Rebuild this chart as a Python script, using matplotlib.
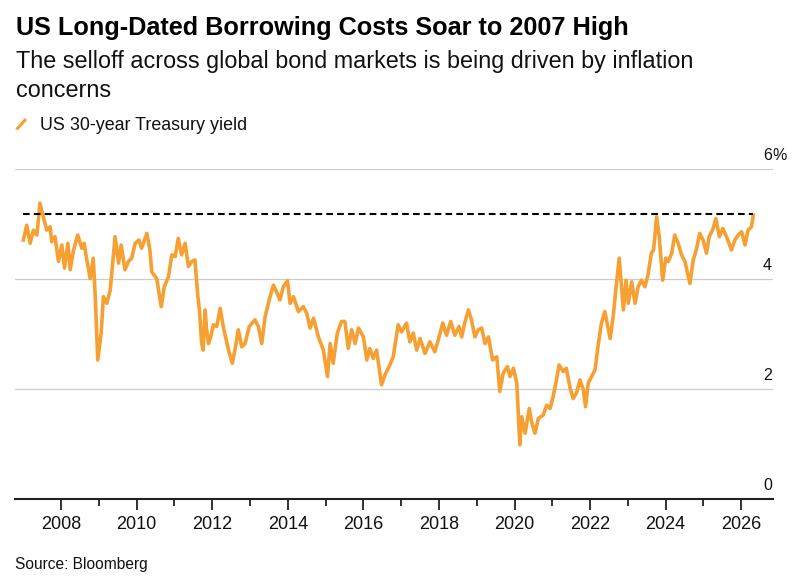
import numpy as np
import matplotlib
matplotlib.use('Agg')
import matplotlib.pyplot as plt
from matplotlib.lines import Line2D

# US 30-year Treasury yield (decimal year, percent)
years = [2007.00, 2007.09, 2007.18, 2007.27, 2007.36, 2007.44, 2007.53, 2007.62, 2007.71, 2007.75,
         2007.84, 2007.93, 2008.02, 2008.09, 2008.18, 2008.24, 2008.33, 2008.44, 2008.55, 2008.61,
         2008.68, 2008.77, 2008.85, 2008.90, 2008.97, 2009.06, 2009.12, 2009.21, 2009.30, 2009.43,
         2009.52, 2009.59, 2009.69, 2009.78, 2009.87, 2009.96, 2010.06, 2010.13, 2010.27, 2010.35,
         2010.40, 2010.53, 2010.65, 2010.73, 2010.84, 2010.93, 2011.02, 2011.10, 2011.19, 2011.28,
         2011.37, 2011.46, 2011.54, 2011.62, 2011.66, 2011.72, 2011.76, 2011.81, 2011.85, 2011.90,
         2011.96, 2012.03, 2012.12, 2012.21, 2012.29, 2012.43, 2012.53, 2012.60, 2012.69, 2012.78,
         2012.87, 2012.98, 2013.13, 2013.22, 2013.31, 2013.40, 2013.53, 2013.62, 2013.70, 2013.79,
         2013.88, 2013.99, 2014.06, 2014.15, 2014.28, 2014.41, 2014.50, 2014.59, 2014.68, 2014.81,
         2014.94, 2015.05, 2015.12, 2015.20, 2015.31, 2015.42, 2015.51, 2015.60, 2015.69, 2015.78,
         2015.87, 2016.00, 2016.09, 2016.17, 2016.26, 2016.35, 2016.48, 2016.57, 2016.70, 2016.79,
         2016.92, 2017.01, 2017.14, 2017.23, 2017.32, 2017.41, 2017.50, 2017.63, 2017.76, 2017.89,
         2017.98, 2018.10, 2018.20, 2018.31, 2018.42, 2018.53, 2018.60, 2018.68, 2018.78, 2018.86,
         2018.95, 2019.04, 2019.13, 2019.22, 2019.31, 2019.42, 2019.53, 2019.61, 2019.70, 2019.81,
         2019.88, 2019.97, 2020.06, 2020.14, 2020.19, 2020.28, 2020.39, 2020.45, 2020.54, 2020.63,
         2020.76, 2020.85, 2020.94, 2021.02, 2021.11, 2021.18, 2021.29, 2021.37, 2021.47, 2021.55,
         2021.64, 2021.73, 2021.82, 2021.88, 2021.95, 2022.04, 2022.13, 2022.22, 2022.30, 2022.39,
         2022.45, 2022.53, 2022.61, 2022.68, 2022.77, 2022.83, 2022.88, 2022.95, 2023.01, 2023.10,
         2023.19, 2023.27, 2023.36, 2023.45, 2023.53, 2023.62, 2023.68, 2023.76, 2023.83, 2023.92,
         2024.00, 2024.07, 2024.16, 2024.24, 2024.33, 2024.42, 2024.51, 2024.64, 2024.73, 2024.81,
         2024.90, 2024.99, 2025.08, 2025.15, 2025.24, 2025.33, 2025.42, 2025.51, 2025.61, 2025.74,
         2025.83, 2025.92, 2026.01, 2026.10, 2026.18, 2026.27, 2026.32]
yields = [4.71, 4.98, 4.65, 4.89, 4.80, 5.38, 5.13, 4.89, 4.95, 4.68,
          4.77, 4.32, 4.62, 4.20, 4.65, 4.17, 4.53, 4.80, 4.56, 4.65,
          4.35, 4.01, 4.38, 3.74, 2.53, 3.02, 3.68, 3.56, 3.80, 4.77,
          4.29, 4.62, 4.17, 4.32, 4.38, 4.65, 4.71, 4.56, 4.83, 4.53,
          4.13, 4.01, 3.50, 3.86, 4.04, 4.44, 4.41, 4.74, 4.44, 4.65,
          4.23, 4.32, 4.35, 3.68, 3.45, 2.83, 2.71, 3.44, 3.10, 2.83,
          2.95, 3.17, 3.14, 3.47, 3.14, 2.71, 2.47, 2.71, 3.08, 2.77,
          2.83, 3.14, 3.26, 3.14, 2.83, 3.32, 3.68, 3.89, 3.77, 3.62,
          3.86, 3.97, 3.56, 3.68, 3.41, 3.50, 3.38, 3.11, 3.29, 2.95,
          2.71, 2.23, 2.83, 2.47, 3.02, 3.23, 3.23, 2.74, 3.08, 2.83,
          3.11, 2.95, 2.53, 2.74, 2.56, 2.71, 2.08, 2.26, 2.44, 2.59,
          3.17, 3.04, 3.20, 2.86, 3.02, 2.71, 2.92, 2.65, 2.86, 2.68,
          2.89, 3.20, 2.98, 3.23, 2.98, 3.14, 2.95, 3.20, 3.44, 3.26,
          2.95, 3.08, 3.11, 2.83, 2.95, 2.53, 2.59, 1.96, 2.29, 2.41,
          2.23, 2.38, 2.11, 0.99, 1.50, 1.20, 1.65, 1.41, 1.20, 1.47,
          1.53, 1.71, 1.65, 1.86, 2.17, 2.44, 2.32, 2.38, 2.02, 1.83,
          1.93, 2.17, 1.99, 1.68, 2.11, 2.23, 2.35, 2.83, 3.20, 3.41,
          3.20, 2.92, 3.32, 3.80, 4.38, 3.86, 3.44, 3.98, 3.56, 3.95,
          3.56, 3.86, 3.98, 3.86, 4.07, 4.47, 4.53, 5.13, 4.77, 3.98,
          4.38, 4.32, 4.47, 4.80, 4.65, 4.44, 4.32, 3.92, 4.35, 4.53,
          4.83, 4.71, 4.47, 4.77, 4.89, 5.10, 4.77, 4.92, 4.77, 4.53,
          4.71, 4.80, 4.86, 4.62, 4.89, 4.95, 5.16]
high_2007 = 5.18

x_ticks = list(range(2008, 2027, 2))
x_minor = list(range(2009, 2027, 2))
y_ticks = [2, 4, 6]
y_labels = ['0', '2', '4', '6']

ORANGE = '#F6A033'
plt.rcParams['font.family'] = ['Liberation Sans', 'DejaVu Sans']

fig = plt.figure(figsize=(8.02, 5.88), dpi=100)
W, H = 802.0, 588.0
ax = fig.add_axes([15 / W, 1 - 499.3 / H, 758 / W, 330.3 / H])

ax.plot(years, yields, color=ORANGE, lw=2.6, solid_joinstyle='round', zorder=3)
ax.plot([years[0], years[-1]], [high_2007, high_2007], color='black', lw=1.5,
        dashes=(3.2, 2.0), zorder=4)

ax.set_xlim(2006.78, 2026.84)
ax.set_ylim(0, 6)
for v in y_ticks:
    ax.axhline(v, color='#cccccc', lw=0.9, zorder=1)

for s in ['top', 'right', 'left']:
    ax.spines[s].set_visible(False)
ax.spines['bottom'].set_color('#222222')
ax.spines['bottom'].set_linewidth(1.5)
ax.set_yticks([])
ax.set_xticks(x_ticks)
ax.set_xticklabels([str(y) for y in x_ticks], fontsize=13, color='#111111')
ax.set_xticks(x_minor, minor=True)
ax.tick_params(axis='x', which='major', length=8, width=1.3, color='#222222', pad=4)
ax.tick_params(axis='x', which='minor', length=5, width=1.3, color='#222222')

# y labels sit on top of the gridlines at the right edge
xr = (772 - 15) / 758.0
for i, lab in enumerate(y_labels):
    v = 2 * i
    ax.text(xr, v + 0.16, lab, transform=ax.get_yaxis_transform(),
            ha='right', va='baseline', fontsize=11.5, color='#111111')
    if lab == '6':
        ax.text(xr, v + 0.16, '%', transform=ax.get_yaxis_transform(),
                ha='left', va='baseline', fontsize=11.5, color='#111111')

fig.text(16 / W, 1 - 35 / H, 'US Long-Dated Borrowing Costs Soar to 2007 High',
         fontsize=18.2, fontweight='bold', va='baseline', ha='left', color='black')
fig.text(16 / W, 1 - 68 / H, 'The selloff across global bond markets is being driven by inflation',
         fontsize=16.8, va='baseline', ha='left', color='#111111')
fig.text(16 / W, 1 - 97 / H, 'concerns',
         fontsize=16.8, va='baseline', ha='left', color='#111111')
fig.add_artist(Line2D([16.5 / W, 26 / W], [1 - 129.5 / H, 1 - 119 / H],
                      color=ORANGE, lw=2.2, solid_capstyle='butt'))
fig.text(40 / W, 1 - 129.5 / H, 'US 30-year Treasury yield',
         fontsize=12.9, va='baseline', ha='left', color='#111111')
fig.text(15 / W, 1 - 569 / H, 'Source: Bloomberg',
         fontsize=11.2, va='baseline', ha='left', color='#111111')

fig.savefig('out.png', dpi=100)
